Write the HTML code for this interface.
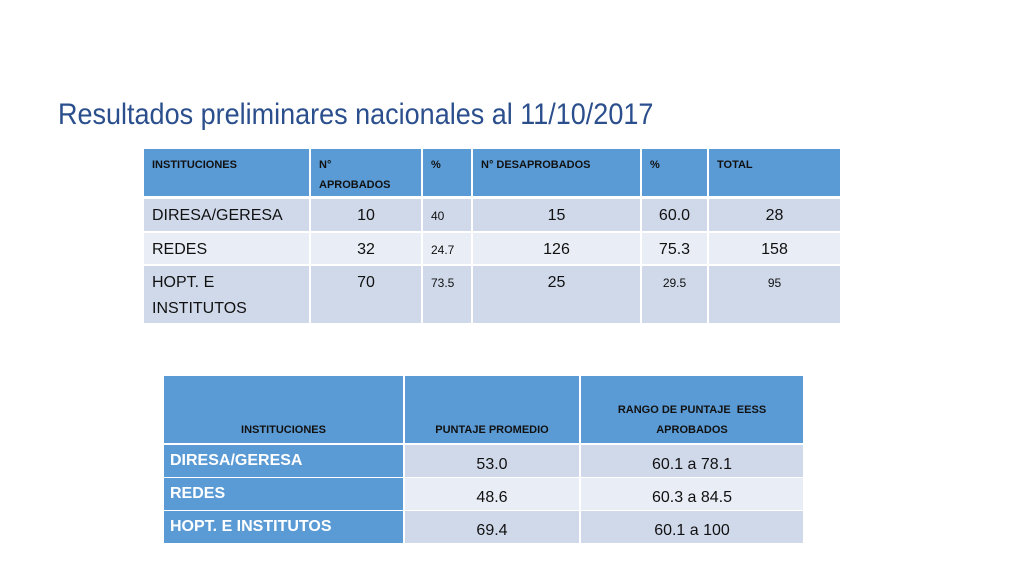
<!DOCTYPE html>
<html><head><meta charset="utf-8">
<style>
body{margin:0;width:1024px;height:576px;background:#fff;position:relative;overflow:hidden;font-family:"Liberation Sans",sans-serif}
.c{position:absolute;box-sizing:border-box;color:#111;overflow:hidden}
.h{background:#5b9bd5;font-weight:bold;font-size:11px;color:#111;padding:6px 8px;line-height:20px}
.o{background:#d0d9ea}
.e{background:#e9edf5}
.b{font-size:16px;padding:4px 8px;line-height:26px}
.s{font-size:12px}
.ctr{text-align:center}
.bl{background:#5b9bd5;color:#fff;font-weight:bold;font-size:16px;padding:4px 6px;line-height:24px}
#title{position:absolute;left:58px;top:98px;font-size:30px;color:#2b4f8c;white-space:nowrap;transform-origin:0 0;transform:scaleX(0.9)}
</style></head><body>
<div id="title">Resultados preliminares nacionales al 11/10/2017</div>

<!-- table 1 -->
<div>
<div class="c h" style="left:144px;top:149px;width:165px;height:47px">INSTITUCIONES</div>
<div class="c h" style="left:311px;top:149px;width:110px;height:47px">N°<br>APROBADOS</div>
<div class="c h" style="left:423px;top:149px;width:48px;height:47px">%</div>
<div class="c h" style="left:473px;top:149px;width:167px;height:47px">N° DESAPROBADOS</div>
<div class="c h" style="left:642px;top:149px;width:65px;height:47px">%</div>
<div class="c h" style="left:709px;top:149px;width:131px;height:47px">TOTAL</div>

<div class="c o b" style="left:144px;top:199px;width:165px;height:32px">DIRESA/GERESA</div>
<div class="c o b ctr" style="left:311px;top:199px;width:110px;height:32px">10</div>
<div class="c o b s" style="left:423px;top:199px;width:48px;height:32px">40</div>
<div class="c o b ctr" style="left:473px;top:199px;width:167px;height:32px">15</div>
<div class="c o b ctr" style="left:642px;top:199px;width:65px;height:32px">60.0</div>
<div class="c o b ctr" style="left:709px;top:199px;width:131px;height:32px">28</div>

<div class="c e b" style="left:144px;top:233px;width:165px;height:31px">REDES</div>
<div class="c e b ctr" style="left:311px;top:233px;width:110px;height:31px">32</div>
<div class="c e b s" style="left:423px;top:233px;width:48px;height:31px">24.7</div>
<div class="c e b ctr" style="left:473px;top:233px;width:167px;height:31px">126</div>
<div class="c e b ctr" style="left:642px;top:233px;width:65px;height:31px">75.3</div>
<div class="c e b ctr" style="left:709px;top:233px;width:131px;height:31px">158</div>

<div class="c o b" style="left:144px;top:266px;width:165px;height:57px">HOPT. E<br>INSTITUTOS</div>
<div class="c o b ctr" style="left:311px;top:266px;width:110px;height:57px">70</div>
<div class="c o b s" style="left:423px;top:266px;width:48px;height:57px">73.5</div>
<div class="c o b ctr" style="left:473px;top:266px;width:167px;height:57px">25</div>
<div class="c o b s ctr" style="left:642px;top:266px;width:65px;height:57px">29.5</div>
<div class="c o b s ctr" style="left:709px;top:266px;width:131px;height:57px">95</div>
</div>

<!-- table 2 -->
<div>
<div class="c h ctr" style="left:164px;top:376px;width:239px;height:67px;padding-top:44px">INSTITUCIONES</div>
<div class="c h ctr" style="left:405px;top:376px;width:174px;height:67px;padding-top:44px">PUNTAJE PROMEDIO</div>
<div class="c h ctr" style="left:581px;top:376px;width:222px;height:67px;padding-top:24px">RANGO DE PUNTAJE&nbsp; EESS<br>APROBADOS</div>

<div class="c bl" style="left:164px;top:445px;width:239px;height:32px">DIRESA/GERESA</div>
<div class="c o b ctr" style="left:405px;top:445px;width:174px;height:32px;padding-top:7px">53.0</div>
<div class="c o b ctr" style="left:581px;top:445px;width:222px;height:32px;padding-top:7px">60.1 a 78.1</div>

<div class="c bl" style="left:164px;top:478px;width:239px;height:32px">REDES</div>
<div class="c e b ctr" style="left:405px;top:478px;width:174px;height:32px;padding-top:7px">48.6</div>
<div class="c e b ctr" style="left:581px;top:478px;width:222px;height:32px;padding-top:7px">60.3 a 84.5</div>

<div class="c bl" style="left:164px;top:511px;width:239px;height:32px">HOPT. E INSTITUTOS</div>
<div class="c o b ctr" style="left:405px;top:511px;width:174px;height:32px;padding-top:7px">69.4</div>
<div class="c o b ctr" style="left:581px;top:511px;width:222px;height:32px;padding-top:7px">60.1 a 100</div>
</div>
</body></html>
